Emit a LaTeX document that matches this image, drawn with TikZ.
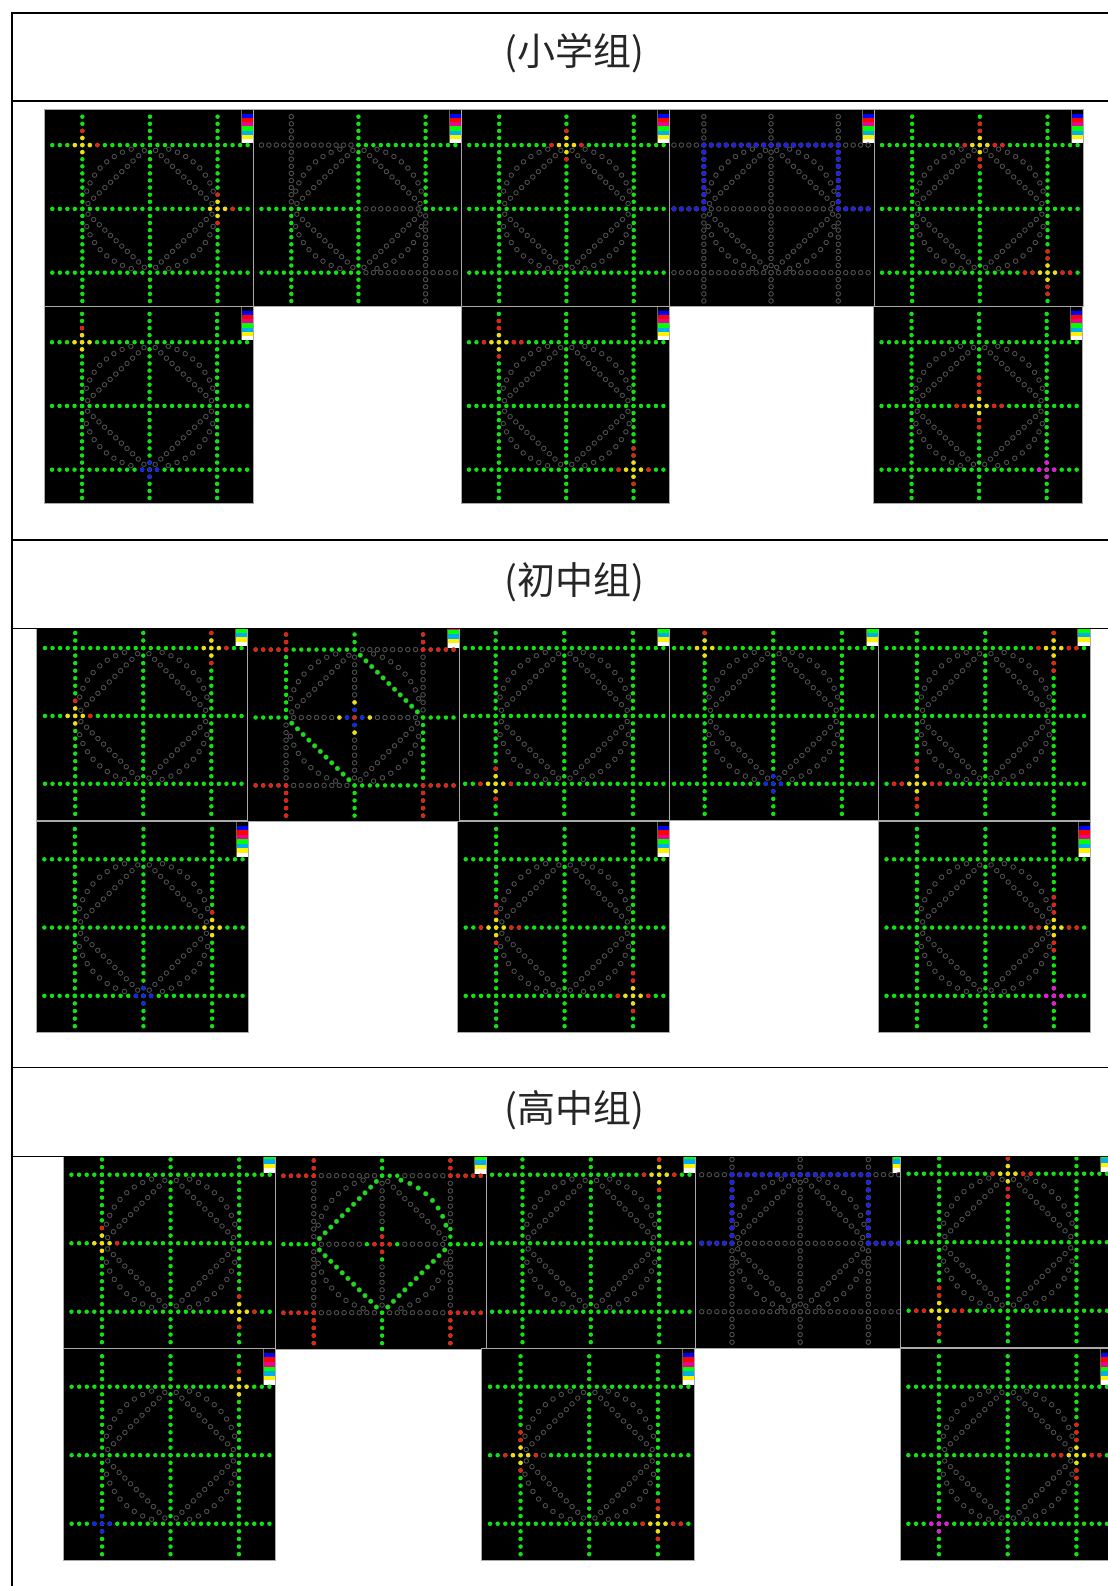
\documentclass[tikz,border=0pt]{standalone}
\usepackage{fontspec}
\usepackage{xcolor}
\newfontfamily\cjk{Noto Sans CJK SC}
\definecolor{ledgreen}{RGB}{20,225,20}
\definecolor{ledred}{RGB}{232,30,30}
\definecolor{ledblue}{RGB}{30,30,240}
\definecolor{ledyellow}{RGB}{250,215,20}
\definecolor{ledpink}{RGB}{235,20,225}
\definecolor{ledgray}{RGB}{78,78,78}
\definecolor{ledframe}{RGB}{170,170,170}
\definecolor{ledolive}{RGB}{110,105,40}
\tikzset{
  ledG/.style={fill=ledgreen},
  ledR/.style={fill=ledred},
  ledB/.style={fill=ledblue},
  ledY/.style={fill=ledyellow},
  ledM/.style={fill=ledpink},
  ledoff/.style={fill=black, draw=ledgray, line width=0.45pt},
  tablerule/.style={line width=1pt, draw=black},
  grouptitle/.style={font=\cjk\fontsize{19}{19}\selectfont, inner sep=0pt, text=black!85},
}
\def\ledr{2.25}
% one lamp, a row, a column
\newcommand{\ledat}[3]{\path[#3] ({\lx+(#1)*\lsx},{\ly+(#2)*\lsy}) circle (\ledr);}
\newcommand{\ledh}[4]{\foreach \a in {#2,...,#3} {\ledat{\a}{#1}{#4}}}
\newcommand{\ledv}[4]{\foreach \a in {#2,...,#3} {\ledat{#1}{\a}{#4}}}
% the diamond and ring, one quarter each
\newcommand{\leddiag}[3]{\foreach \a in {0,...,10} {\ledat{13+(#1)*(0.75+0.75*\a)}{13+(#2)*(8.25-0.75*\a)}{#3}}}
\newcommand{\ledarc}[3]{\foreach \a in {0,...,7} {\ledat{13+(#1)*8.78*sin(16.5+8.14*\a)}{13+(#2)*8.78*cos(16.5+8.14*\a)}{#3}}}
\newcommand{\ledgrid}[1]{\foreach \b in {4,13,22} {\ledh{\b}{0}{26}{#1}\ledv{\b}{0}{26}{#1}}}
% cursor: centre i j, then red lamps left, right, up, down
\newcommand{\ledcross}[6]{%
  \foreach \a in {1,2,3} {%
    \ifnum\a>#3\else\ledat{#1-1-\a}{#2}{ledR}\fi
    \ifnum\a>#4\else\ledat{#1+1+\a}{#2}{ledR}\fi
    \ifnum\a>#5\else\ledat{#1}{#2-1-\a}{ledR}\fi
    \ifnum\a>#6\else\ledat{#1}{#2+1+\a}{ledR}\fi
  }
  \ledspot{#1}{#2}{ledY}}
\newcommand{\ledspot}[3]{\ledat{#1}{#2}{#3}\ledat{#1-1}{#2}{#3}\ledat{#1+1}{#2}{#3}\ledat{#1}{#2-1}{#3}\ledat{#1}{#2+1}{#3}}
\newcommand{\ledblueframe}{\ledgrid{ledoff}\ledh{4}{4}{22}{ledB}\ledv{4}{4}{13}{ledB}\ledv{22}{4}{13}{ledB}\ledh{13}{0}{4}{ledB}\ledh{13}{22}{26}{ledB}}
% x left, x right of the full image, x right shown, y top of the full image, y top shown, y bottom, lamps
\newcommand{\ledpanel}[7]{%
  \fill[black] (#1,#5) rectangle (#3,#6);
  \begin{scope}
    \clip (#1,#5) rectangle (#3,#6);
    \pgfmathsetmacro\lw{#2-#1}
    \pgfmathsetmacro\lh{#6-#4}
    \pgfmathsetmacro\lx{#1+0.0383*\lw}
    \pgfmathsetmacro\ly{#4+0.0375*\lh}
    \pgfmathsetmacro\lsx{0.0359*\lw}
    \pgfmathsetmacro\lsy{0.0359*\lh}
    \pgfmathsetmacro\lsw{0.0574*\lw}
    \pgfmathsetmacro\lsh{0.0215*\lh}
    \foreach \c [count=\i from 0] in {black,blue,red,magenta,green,cyan,yellow,white}
      \fill[\c] (#2-\lsw,{#4+\i*\lsh}) rectangle (#2,{#4+(\i+1)*\lsh});
    \draw[ledolive, line width=0.4pt] (#2-\lsw,{#4+8*\lsh}) -- (#2-\lsw,#4) -- (#2,#4);
    \ledgrid{ledG}
    \foreach \p/\q in {1/1,1/-1,-1/1,-1/-1} {\ledarc{\p}{\q}{ledoff}\leddiag{\p}{\q}{ledoff}}
    #7
  \end{scope}
  \draw[ledframe, line width=0.5pt] (#1,#5) rectangle (#3,#6);
}

\begin{document}
\begin{tikzpicture}[x=0.5pt, y=-0.5pt]
  \useasboundingbox (0,0) rectangle (1108,1586);
  \fill[white] (0,0) rectangle (1108,1586);
  \clip (0,0) rectangle (1108,1586);
  % 小学组, right to left: each image lies over the edge of its right neighbour
  \ledpanel{874}{1083.5}{1083.5}{109.3}{109.3}{306.7}{\ledcross{13}{4}{1}{2}{2}{2}\ledcross{22}{22}{2}{2}{2}{2}}
  \ledpanel{666}{874}{874}{109.3}{109.3}{306.7}{\ledblueframe}
  \ledpanel{461.3}{669.5}{669.5}{109.3}{109.3}{306.7}{\ledcross{13}{4}{1}{1}{1}{1}}
  \ledpanel{253.5}{461.3}{461.3}{109.3}{109.3}{306.7}{\ledh{4}{0}{12}{ledoff}\ledh{22}{14}{26}{ledoff}\ledh{13}{14}{21}{ledoff}\ledv{4}{0}{12}{ledoff}\ledv{22}{14}{26}{ledoff}}
  \ledpanel{44.3}{253.5}{253.5}{109.3}{109.3}{306.7}{\ledcross{4}{4}{0}{1}{1}{0}\ledcross{22}{13}{0}{1}{1}{1}}
  \ledpanel{44}{253}{253}{306.5}{306.5}{503.7}{\ledcross{4}{4}{0}{0}{1}{0}\ledspot{13}{22}{ledB}}
  \ledpanel{461}{669.3}{669.3}{306.5}{306.5}{503.7}{\ledcross{4}{4}{1}{2}{2}{1}\ledcross{22}{22}{1}{1}{2}{1}}
  \ledpanel{873.5}{1082.6}{1082.6}{306.5}{306.5}{503.7}{\ledcross{13}{13}{2}{2}{3}{2}\ledspot{22}{22}{ledM}}
  % 初中组
  \ledpanel{878.4}{1090}{1090}{610}{628.5}{820}{\ledcross{22}{4}{1}{2}{1}{2}\ledcross{4}{22}{2}{2}{2}{2}}
  \ledpanel{666}{878.4}{878.4}{610}{628.5}{820}{\ledcross{4}{4}{0}{0}{1}{0}\ledspot{13}{22}{ledB}}
  \ledpanel{457}{669.4}{669.4}{610}{628.5}{820}{\ledcross{4}{22}{1}{1}{1}{1}}
  \ledpanel{247.5}{459.5}{459.5}{611.5}{628.5}{821.7}{%
    \ledh{4}{0}{4}{ledR}\ledh{4}{14}{21}{ledoff}\ledh{4}{22}{26}{ledR}
    \ledh{22}{0}{4}{ledR}\ledh{22}{5}{12}{ledoff}\ledh{22}{22}{26}{ledR}
    \ledv{4}{0}{4}{ledR}\ledv{4}{14}{21}{ledoff}\ledv{4}{22}{26}{ledR}
    \ledv{22}{0}{4}{ledR}\ledv{22}{5}{12}{ledoff}\ledv{22}{22}{26}{ledR}
    \ledh{13}{5}{10}{ledoff}\ledh{13}{16}{21}{ledoff}\ledv{13}{5}{10}{ledoff}\ledv{13}{16}{21}{ledoff}
    \leddiag{1}{-1}{ledG}\leddiag{-1}{1}{ledG}
    \ledat{11}{13}{ledY}\ledat{15}{13}{ledY}\ledat{13}{11}{ledY}\ledat{13}{15}{ledY}
    \ledspot{13}{13}{ledB}\ledat{13}{13}{ledR}}
  \ledpanel{36.9}{247.5}{247.5}{610}{628.5}{820}{\ledcross{22}{4}{0}{1}{1}{1}\ledcross{4}{13}{0}{1}{1}{0}}
  \ledpanel{36.2}{248.6}{248.6}{821}{821}{1032.3}{\ledcross{22}{13}{0}{0}{1}{0}\ledspot{13}{22}{ledB}}
  \ledpanel{457.6}{669.4}{669.4}{821}{821}{1032.3}{\ledcross{4}{13}{1}{2}{2}{1}\ledcross{22}{22}{1}{1}{2}{1}}
  \ledpanel{878.4}{1090.2}{1090.2}{821}{821}{1032.3}{\ledcross{22}{13}{2}{2}{3}{2}\ledspot{22}{22}{ledM}}
  % 高中组
  \ledpanel{900.5}{1113}{1113}{1135.3}{1156.5}{1347.3}{\ledcross{13}{4}{1}{2}{1}{2}\ledcross{4}{22}{2}{2}{2}{2}}
  \ledpanel{693.6}{904.6}{900.5}{1136.3}{1156.5}{1348.3}{\ledblueframe}
  \ledpanel{484}{695.5}{695.5}{1136.3}{1156.5}{1348.3}{\ledcross{22}{4}{1}{1}{1}{1}}
  \ledpanel{275.3}{486.7}{486.7}{1137.3}{1156.5}{1349.3}{%
    \ledh{4}{0}{4}{ledR}\ledh{4}{5}{12}{ledoff}\ledh{4}{16}{21}{ledoff}\ledh{4}{22}{26}{ledR}
    \ledh{22}{0}{4}{ledR}\ledh{22}{5}{12}{ledoff}\ledh{22}{14}{21}{ledoff}\ledh{22}{22}{26}{ledR}
    \ledv{4}{0}{4}{ledR}\ledv{4}{5}{12}{ledoff}\ledv{4}{14}{21}{ledoff}\ledv{4}{22}{26}{ledR}
    \ledv{22}{0}{4}{ledR}\ledv{22}{5}{10}{ledoff}\ledv{22}{14}{21}{ledoff}\ledv{22}{22}{26}{ledR}
    \ledh{13}{5}{10}{ledoff}\ledh{13}{16}{21}{ledoff}\ledv{13}{5}{10}{ledoff}\ledv{13}{16}{21}{ledoff}
    \leddiag{-1}{-1}{ledG}\leddiag{-1}{1}{ledG}\leddiag{1}{1}{ledG}\ledarc{1}{-1}{ledG}
    \ledspot{13}{13}{ledR}}
  \ledpanel{63.3}{275.7}{275.7}{1136.3}{1156.5}{1348.3}{\ledcross{4}{13}{0}{1}{1}{0}\ledcross{22}{22}{0}{1}{1}{1}}
  \ledpanel{63.5}{275.4}{275.4}{1348.3}{1348.3}{1560.3}{\ledcross{22}{4}{0}{0}{1}{0}\ledspot{4}{22}{ledB}}
  \ledpanel{481.9}{694.4}{694.4}{1348.3}{1348.3}{1560.3}{\ledcross{4}{13}{1}{1}{2}{1}\ledat{7}{13}{ledoff}\ledcross{22}{22}{1}{2}{2}{1}}
  \ledpanel{900.2}{1113}{1113}{1348.3}{1348.3}{1560.3}{\ledcross{22}{13}{2}{2}{3}{2}\ledspot{4}{22}{ledM}}
  % table
  \draw[tablerule] (12.3,1586) -- (12.3,13) -- (1108,13);
  \foreach \y in {101,540,628.5,1067.5,1156.5}
    \draw[tablerule, line width=0.8pt] (12.3,\y) -- (1108,\y);
  \node[grouptitle] (primary) at (574,53) {(小学组)};
  \node[grouptitle] (junior) at (574,582) {(初中组)};
  \node[grouptitle] (senior) at (574,1110) {(高中组)};
\end{tikzpicture}
\end{document}
